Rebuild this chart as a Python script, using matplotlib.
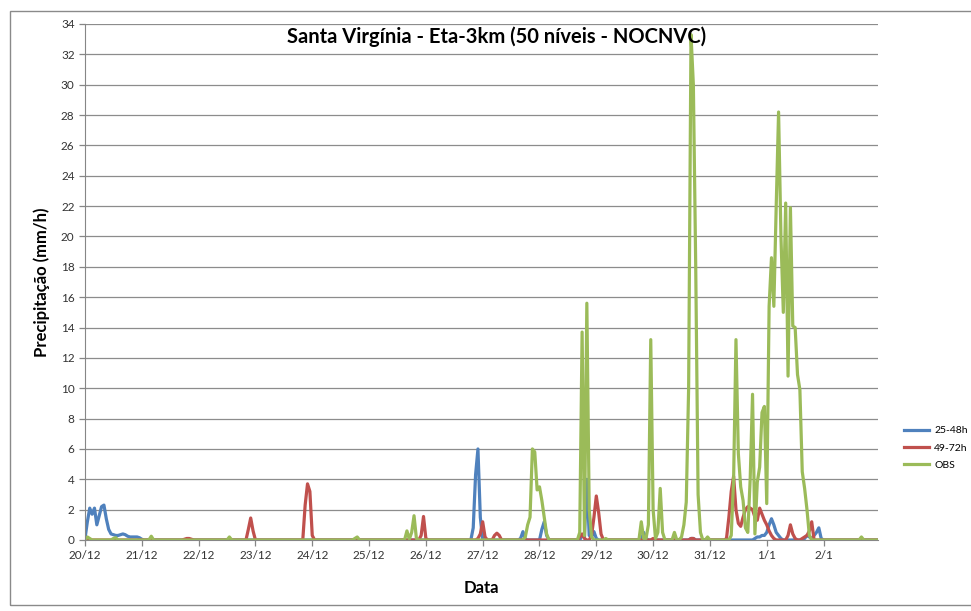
import numpy as np
import matplotlib
matplotlib.use("Agg")
import matplotlib.pyplot as plt
from matplotlib.patches import Rectangle

plt.rcParams['font.family'] = ['Lato', 'DejaVu Sans']

N_HOURS = 336
day_labels = ["20/12", "21/12", "22/12", "23/12", "24/12", "25/12", "26/12",
              "27/12", "28/12", "29/12", "30/12", "31/12", "1/1", "2/1"]

# hourly values (hour index -> mm/h); hours not listed are 0
blue_hours = [0, 1, 2, 3, 4, 5, 6, 7, 8, 9, 10, 11, 12, 13, 14, 15, 16, 17, 18, 19, 20, 21, 22, 23, 24,
              164, 165, 166, 167, 184, 185, 186, 193, 194, 195,
              210, 211, 212, 213, 214, 215, 216, 236, 237, 256, 257,
              283, 284, 285, 286, 287, 288, 289, 290, 291, 292, 293, 294,
              304, 305, 306, 307, 308, 309, 310, 311]
blue_vals = [0.1, 1.2, 2.1, 1.7, 2.1, 1.0, 1.6, 2.2, 2.3, 1.4, 0.7, 0.4, 0.35, 0.3, 0.3, 0.35, 0.4, 0.35, 0.25, 0.2, 0.2, 0.2, 0.2, 0.15, 0.05,
             0.8, 4.3, 6.0, 1.5, 0.1, 0.55, 0.05, 0.7, 1.2, 0.3,
             0.3, 0.2, 4.0, 0.3, 0.2, 0.55, 0.1, 0.5, 0.1, 0.1, 0.1,
             0.1, 0.2, 0.2, 0.3, 0.3, 0.5, 1.0, 1.4, 1.0, 0.5, 0.3, 0.1,
             0.1, 0.3, 0.2, 0.1, 0.3, 0.5, 0.8, 0.1]

red_hours = [42, 43, 44, 45, 69, 70, 71, 93, 94, 95, 96, 142, 143, 144,
             166, 167, 168, 169, 173, 174, 175, 209, 210, 211,
             214, 215, 216, 217, 218, 240, 256, 257,
             271, 272, 273, 274, 275, 276, 277, 278, 279, 280, 281, 282, 283, 284,
             285, 286, 287, 288, 289, 290, 291, 297, 298, 299, 300,
             303, 304, 305, 306, 307]
red_vals = [0.05, 0.1, 0.1, 0.05, 0.7, 1.45, 0.6, 2.3, 3.7, 3.2, 0.3, 0.3, 1.55, 0.1,
            0.1, 0.4, 1.2, 0.2, 0.3, 0.45, 0.3, 0.2, 0.4, 0.1,
            0.3, 1.5, 2.9, 1.8, 0.4, 0.1, 0.1, 0.1,
            0.1, 1.5, 3.2, 4.2, 2.0, 1.1, 0.9, 1.5, 2.0, 2.2, 2.1, 2.0, 1.5, 1.3,
            2.1, 1.7, 1.3, 1.0, 0.6, 0.3, 0.1, 0.3, 1.0, 0.4, 0.1,
            0.1, 0.2, 0.3, 0.6, 1.2]

obs_hours = [1, 2, 12, 13, 28, 61, 114, 115,
             136, 137, 138, 139, 140,
             186, 187, 188, 189, 190, 191, 192, 193, 194, 195,
             209, 210, 211, 212, 213, 214, 220,
             235, 236, 237, 238, 239, 240, 241, 242, 243, 244, 249,
             252, 253, 254, 255, 256, 257, 258, 259, 260, 263,
             273, 274, 275, 276, 277, 278, 279, 280, 281, 282, 283, 284, 285, 286, 287, 288,
             289, 290, 291, 292, 293, 294, 295, 296, 297, 298, 299, 300, 301, 302, 303, 304,
             305, 306, 328]
obs_vals = [0.2, 0.1, 0.1, 0.15, 0.25, 0.2, 0.1, 0.2,
            0.6, 0.05, 0.5, 1.6, 0.1,
            0.2, 1.0, 1.5, 6.0, 5.8, 3.3, 3.5, 2.6, 1.5, 0.4,
            0.5, 13.7, 0.3, 15.6, 2.0, 0.2, 0.1,
            1.2, 0.1, 0.1, 1.0, 13.2, 2.0, 0.1, 0.5, 3.4, 0.5, 0.5,
            0.2, 1.0, 2.5, 10.0, 33.3, 30.0, 18.0, 3.0, 0.5, 0.2,
            0.3, 4.0, 13.2, 5.7, 3.5, 2.6, 0.8, 0.5, 4.0, 9.6, 0.4, 3.8, 4.8, 8.4, 8.8, 2.4,
            15.4, 18.6, 15.4, 22.0, 28.2, 20.0, 15.0, 22.2, 10.8, 21.9, 14.1, 14.0, 10.9, 9.9, 4.5, 3.4,
            2.0, 0.3, 0.2]

series = [("25-48h", blue_hours, blue_vals, "#4F81BD"),
          ("49-72h", red_hours, red_vals, "#C0504D"),
          ("OBS", obs_hours, obs_vals, "#9BBB59")]

W, H = 971, 611
fig = plt.figure(figsize=(W / 100, H / 100), dpi=100)
fig.patches.append(Rectangle((10 / W, 6 / H), 1.2, (H - 17) / H, transform=fig.transFigure,
                             fill=False, edgecolor="#8a8a8a", lw=1.0))

ax = fig.add_axes([85 / W, 1 - 540 / H, (878 - 85) / W, (540 - 24) / H])
hours = np.arange(N_HOURS)
for name, hh, vv, col in series:
    y = np.zeros(N_HOURS)
    y[hh] = vv
    ax.plot(hours, y, color=col, lw=2.3, label=name, solid_joinstyle="round")

ax.set_xlim(0, N_HOURS - 1)
ax.set_ylim(0, 34)
ax.set_yticks(np.arange(0, 35, 2))
ax.set_xticks(np.arange(len(day_labels)) * 24)
ax.set_xticklabels(day_labels)
ax.yaxis.grid(True, color="#8c8c8c", lw=0.9)
ax.set_axisbelow(True)
for s in ["top", "right"]:
    ax.spines[s].set_visible(False)
for s in ["left", "bottom"]:
    ax.spines[s].set_color("#868686")
ax.tick_params(axis="both", colors="#868686", labelcolor="#333333", labelsize=8.5, length=4, width=0.9)
ax.tick_params(axis="x", pad=3)

ax.set_ylabel("Precipitação (mm/h)", fontsize=12, fontweight="bold", labelpad=8)
ax.set_xlabel("Data", fontsize=12, fontweight="bold", labelpad=14)
fig.text(497 / W, 1 - 37 / H, "Santa Virgínia - Eta-3km (50 níveis - NOCNVC)",
         ha="center", va="center", fontsize=14.5, fontweight="bold")

fig.legend(loc="upper left", bbox_to_anchor=(900 / W, 1 - 422 / H), frameon=False,
           fontsize=7.5, handlelength=2.4, handletextpad=0.5, labelspacing=0.75, borderaxespad=0)

fig.savefig("out.png", dpi=100)
